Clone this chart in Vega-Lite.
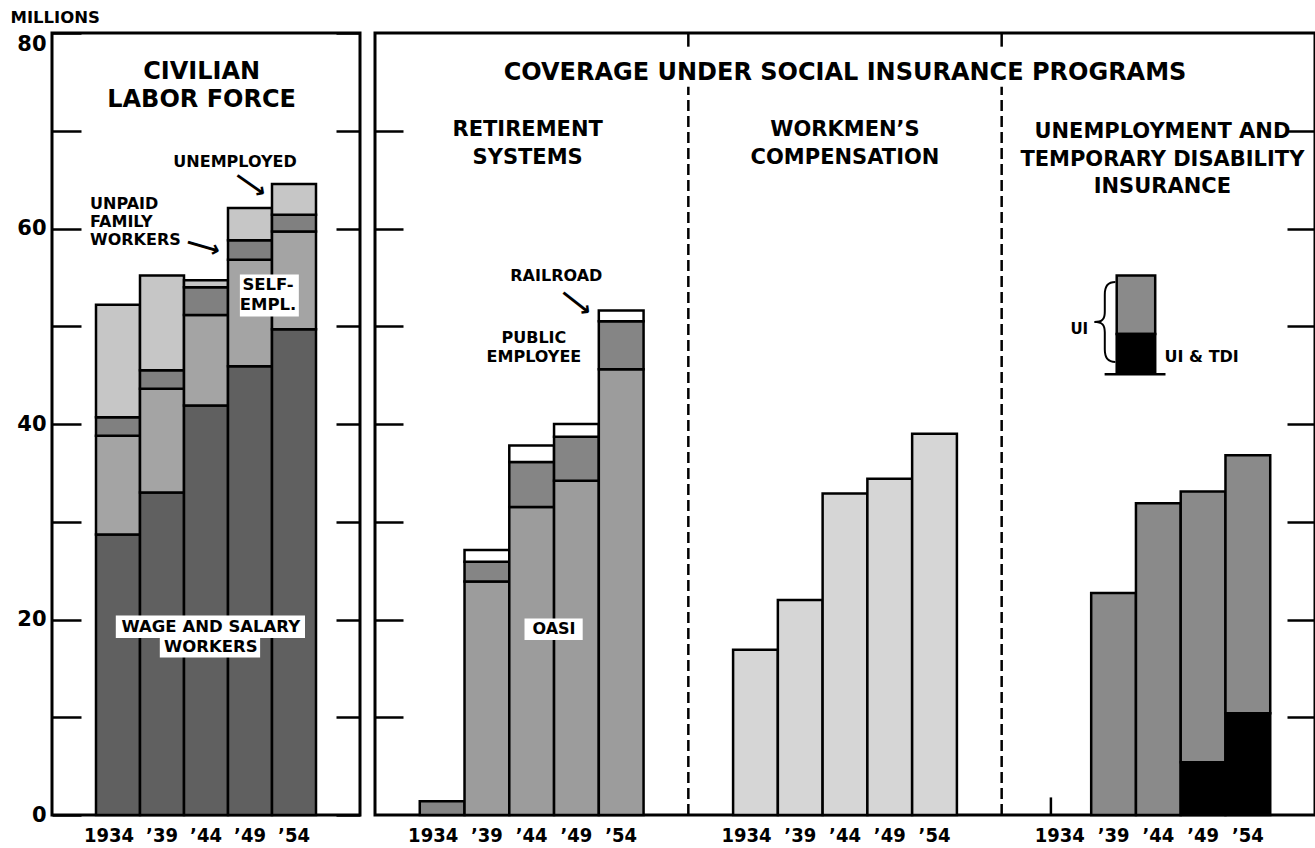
{
  "$schema": "https://vega.github.io/schema/vega-lite/v6.json",
  "background": "white",
  "padding": {"left": 8, "top": 7, "right": 2, "bottom": 0},
  "spacing": 15,
  "bounds": "flush",
  "resolve": {"scale": {"fill": "independent"}},
  "config": {
    "view": {"stroke": "black", "strokeWidth": 3},
    "font": "DejaVu Sans",
    "axis": {"labelColor": "black", "titleColor": "black"}
  },
  "hconcat": [
    {
      "width": 308,
      "height": 782,
      "resolve": {"axis": {"x": "independent", "y": "independent"}},
      "layer": [
        {
          "data": {"values": [
            {"year": "1934", "series": "Wage and salary workers", "ord": 1, "value": 28.7},
            {"year": "1934", "series": "Self-employed", "ord": 2, "value": 10.1},
            {"year": "1934", "series": "Unpaid family workers", "ord": 3, "value": 1.9},
            {"year": "1934", "series": "Unemployed", "ord": 4, "value": 11.5},
            {"year": "1939", "series": "Wage and salary workers", "ord": 1, "value": 33.0},
            {"year": "1939", "series": "Self-employed", "ord": 2, "value": 10.6},
            {"year": "1939", "series": "Unpaid family workers", "ord": 3, "value": 1.9},
            {"year": "1939", "series": "Unemployed", "ord": 4, "value": 9.7},
            {"year": "1944", "series": "Wage and salary workers", "ord": 1, "value": 41.9},
            {"year": "1944", "series": "Self-employed", "ord": 2, "value": 9.25},
            {"year": "1944", "series": "Unpaid family workers", "ord": 3, "value": 2.85},
            {"year": "1944", "series": "Unemployed", "ord": 4, "value": 0.7},
            {"year": "1949", "series": "Wage and salary workers", "ord": 1, "value": 45.9},
            {"year": "1949", "series": "Self-employed", "ord": 2, "value": 10.9},
            {"year": "1949", "series": "Unpaid family workers", "ord": 3, "value": 2.0},
            {"year": "1949", "series": "Unemployed", "ord": 4, "value": 3.3},
            {"year": "1954", "series": "Wage and salary workers", "ord": 1, "value": 49.7},
            {"year": "1954", "series": "Self-employed", "ord": 2, "value": 10.0},
            {"year": "1954", "series": "Unpaid family workers", "ord": 3, "value": 1.7},
            {"year": "1954", "series": "Unemployed", "ord": 4, "value": 3.15}
          ]},
          "mark": {"type": "bar", "stroke": "black", "strokeWidth": 2.5},
          "encoding": {
            "x": {
              "field": "year", "type": "nominal",
              "scale": {"domain": ["1934", "1939", "1944", "1949", "1954"], "paddingInner": 0, "paddingOuter": 1},
              "axis": {"title": null, "domain": false, "ticks": false, "tickSize": 0, "labelAngle": 0,
                "labelFont": "DejaVu Sans Condensed, DejaVu Sans", "labelFontWeight": "bold", "labelFontSize": 20, "labelPadding": 10,
                "labelOffset": {"condition": {"test": "datum.value == '1934'", "value": -9}, "value": 0},
                "labelExpr": "datum.value == '1934' ? '1934' : '’' + slice(datum.value, -2)"}
            },
            "y": {
              "field": "value", "type": "quantitative", "stack": "zero",
              "scale": {"domain": [0, 80], "nice": false},
              "axis": {"title": "MILLIONS", "titleAngle": 0, "titleAlign": "left", "titleBaseline": "middle",
                "titleX": -42, "titleY": -16, "titleFont": "DejaVu Sans", "titleFontSize": 16.5, "titleFontWeight": "bold",
                "values": [0, 10, 20, 30, 40, 50, 60, 70, 80],
                "labelExpr": "datum.value % 20 == 0 ? datum.label : ''",
                "labelBaseline": {"condition": {"test": "datum.value == 80", "value": "top"}, "value": "middle"},
                "labelFont": "DejaVu Sans", "labelFontSize": 21, "labelFontWeight": "bold", "labelPadding": 6,
                "domain": false, "ticks": false, "tickSize": 0,
                "grid": true, "gridColor": "black", "gridWidth": 2.5, "gridOpacity": 1, "gridDash": [29, 255, 24, 3000]}
            },
            "fill": {
              "field": "series", "type": "nominal",
              "scale": {"domain": ["Wage and salary workers", "Self-employed", "Unpaid family workers", "Unemployed"],
                "range": ["#606060", "#a4a4a4", "#808080", "#c6c6c6"]},
              "legend": null
            },
            "order": {"field": "ord", "type": "quantitative"}
          }
        },
        {
          "data": {"values": [{}]},
          "mark": {"type": "rect", "fill": "white"},
          "encoding": {
            "x": {"datum": "1934", "bandPosition": 0.45, "axis": null},
            "x2": {"datum": "1954", "bandPosition": 0.75},
            "y": {"datum": 20.4, "axis": null},
            "y2": {"datum": 18.1}
          }
        },
        {
          "data": {"values": [{}]},
          "mark": {"type": "rect", "fill": "white"},
          "encoding": {
            "x": {"datum": "1939", "bandPosition": 0.45, "axis": null},
            "x2": {"datum": "1949", "bandPosition": 0.73},
            "y": {"datum": 18.1, "axis": null},
            "y2": {"datum": 16.1}
          }
        },
        {
          "data": {"values": [{}]},
          "mark": {"type": "rect", "fill": "white"},
          "encoding": {
            "x": {"datum": "1949", "bandPosition": 0.27, "axis": null},
            "x2": {"datum": "1954", "bandPosition": 0.61},
            "y": {"datum": 55.3, "axis": null},
            "y2": {"datum": 51.0}
          }
        },
        {
          "data": {"values": [{}]},
          "mark": {"type": "text", "font": "DejaVu Sans", "fontWeight": "bold", "fontSize": 24, "lineHeight": 28, "align": "center", "baseline": "middle", "color": "black"},
          "encoding": {
            "x": {"datum": "1944", "bandPosition": 0.4, "axis": null},
            "y": {"datum": 76.0, "axis": null},
            "text": {"value": ["CIVILIAN", "LABOR FORCE"]}
          }
        },
        {
          "data": {"values": [{}]},
          "mark": {"type": "text", "font": "DejaVu Sans", "fontWeight": "bold", "fontSize": 16, "align": "center", "baseline": "middle", "color": "black"},
          "encoding": {
            "x": {"datum": "1949", "bandPosition": 0.16, "axis": null},
            "y": {"datum": 66.8, "axis": null},
            "text": {"value": "UNEMPLOYED"}
          }
        },
        {
          "data": {"values": [{}]},
          "mark": {"type": "text", "font": "DejaVu Sans", "fontWeight": "bold", "fontSize": 16, "lineHeight": 18, "align": "left", "baseline": "middle", "dx": -6, "color": "black"},
          "encoding": {
            "x": {"datum": "1934", "bandPosition": 0, "axis": null},
            "y": {"datum": 62.5, "axis": null},
            "text": {"value": ["UNPAID", "FAMILY", "WORKERS"]}
          }
        },
        {
          "data": {"values": [{}]},
          "mark": {"type": "text", "font": "DejaVu Sans", "fontWeight": "bold", "fontSize": 16.5, "lineHeight": 20, "align": "center", "baseline": "middle", "color": "black"},
          "encoding": {
            "x": {"datum": "1949", "bandPosition": 0.91, "axis": null},
            "y": {"datum": 54.22, "axis": null},
            "text": {"value": ["SELF-", "EMPL."]}
          }
        },
        {
          "data": {"values": [{}]},
          "mark": {"type": "text", "font": "DejaVu Sans", "fontWeight": "bold", "fontSize": 16.5, "lineHeight": 20, "align": "center", "baseline": "middle", "color": "black"},
          "encoding": {
            "x": {"datum": "1944", "bandPosition": 0.61, "axis": null},
            "y": {"datum": 19.23, "axis": null},
            "text": {"value": ["WAGE AND SALARY", "WORKERS"]}
          }
        },
        {
          "data": {"values": [{}]},
          "mark": {"type": "text", "font": "DejaVu Sans", "fontWeight": "bold", "fontSize": 24, "align": "center", "baseline": "middle", "angle": 35, "color": "black"},
          "encoding": {
            "x": {"datum": "1949", "bandPosition": 0.5, "axis": null},
            "y": {"datum": 64.45, "axis": null},
            "text": {"value": "⟶"}
          }
        },
        {
          "data": {"values": [{}]},
          "mark": {"type": "text", "font": "DejaVu Sans", "fontWeight": "bold", "fontSize": 24, "align": "center", "baseline": "middle", "angle": 16, "color": "black"},
          "encoding": {
            "x": {"datum": "1944", "bandPosition": 0.43, "axis": null},
            "y": {"datum": 58.1, "axis": null},
            "text": {"value": "⟶"}
          }
        }
      ]
    },
    {
      "width": 940,
      "height": 782,
      "resolve": {"axis": {"x": "independent", "y": "independent"}},
      "layer": [
        {
          "data": {"values": [
            {"slot": "ret|1934", "series": "Public employee", "ord": 2, "value": 1.4},
            {"slot": "ret|1939", "series": "OASI", "ord": 1, "value": 23.9},
            {"slot": "ret|1939", "series": "Public employee", "ord": 2, "value": 2.0},
            {"slot": "ret|1939", "series": "Railroad", "ord": 3, "value": 1.2},
            {"slot": "ret|1944", "series": "OASI", "ord": 1, "value": 31.5},
            {"slot": "ret|1944", "series": "Public employee", "ord": 2, "value": 4.6},
            {"slot": "ret|1944", "series": "Railroad", "ord": 3, "value": 1.7},
            {"slot": "ret|1949", "series": "OASI", "ord": 1, "value": 34.2},
            {"slot": "ret|1949", "series": "Public employee", "ord": 2, "value": 4.5},
            {"slot": "ret|1949", "series": "Railroad", "ord": 3, "value": 1.3},
            {"slot": "ret|1954", "series": "OASI", "ord": 1, "value": 45.6},
            {"slot": "ret|1954", "series": "Public employee", "ord": 2, "value": 4.9},
            {"slot": "ret|1954", "series": "Railroad", "ord": 3, "value": 1.1},
            {"slot": "wc|1934", "series": "Workmen's compensation", "ord": 1, "value": 16.9},
            {"slot": "wc|1939", "series": "Workmen's compensation", "ord": 1, "value": 22.0},
            {"slot": "wc|1944", "series": "Workmen's compensation", "ord": 1, "value": 32.9},
            {"slot": "wc|1949", "series": "Workmen's compensation", "ord": 1, "value": 34.4},
            {"slot": "wc|1954", "series": "Workmen's compensation", "ord": 1, "value": 39.0},
            {"slot": "ui|1939", "series": "UI", "ord": 2, "value": 22.7},
            {"slot": "ui|1944", "series": "UI", "ord": 2, "value": 31.9},
            {"slot": "ui|1949", "series": "UI & TDI", "ord": 1, "value": 5.4},
            {"slot": "ui|1949", "series": "UI", "ord": 2, "value": 27.7},
            {"slot": "ui|1954", "series": "UI & TDI", "ord": 1, "value": 10.4},
            {"slot": "ui|1954", "series": "UI", "ord": 2, "value": 26.4}
          ]},
          "mark": {"type": "bar", "stroke": "black", "strokeWidth": 2.5},
          "encoding": {
            "x": {
              "field": "slot", "type": "nominal",
              "scale": {"domain": ["ret|1934", "ret|1939", "ret|1944", "ret|1949", "ret|1954", "gap1", "gap2",
                "wc|1934", "wc|1939", "wc|1944", "wc|1949", "wc|1954", "gap3", "gap4",
                "ui|1934", "ui|1939", "ui|1944", "ui|1949", "ui|1954"], "paddingInner": 0, "paddingOuter": 1.18},
              "axis": {"title": null, "domain": false, "ticks": false, "tickSize": 0, "labelAngle": 0,
                "labelFont": "DejaVu Sans Condensed, DejaVu Sans", "labelFontWeight": "bold", "labelFontSize": 20, "labelPadding": 10,
                "labelOffset": {"condition": {"test": "slice(datum.value, -4) == '1934'", "value": -9}, "value": 0},
                "labelExpr": "indexof(datum.value, 'gap') >= 0 ? '' : (slice(datum.value, -4) == '1934' ? '1934' : '’' + slice(datum.value, -2))"}
            },
            "y": {
              "field": "value", "type": "quantitative", "stack": "zero",
              "scale": {"domain": [0, 80], "nice": false},
              "axis": {"title": null, "labels": false, "values": [10, 20, 30, 40, 50, 60, 70],
                "domain": false, "ticks": false, "tickSize": 0,
                "grid": true, "gridColor": "black", "gridWidth": 2.5, "gridOpacity": 1, "gridDash": [28, 884, 28, 3000]}
            },
            "fill": {
              "field": "series", "type": "nominal",
              "scale": {"domain": ["OASI", "Public employee", "Railroad", "Workmen's compensation", "UI", "UI & TDI"],
                "range": ["#9c9c9c", "#858585", "#ffffff", "#d6d6d6", "#8a8a8a", "#000000"]},
              "legend": null
            },
            "order": {"field": "ord", "type": "quantitative"}
          }
        },
        {
          "data": {"values": [{}]},
          "mark": {"type": "rule", "strokeDash": [11, 5], "strokeWidth": 2.5, "color": "black"},
          "encoding": {
            "x": {"datum": "gap1", "bandPosition": 1, "axis": null},
            "y": {"datum": 0, "axis": null},
            "y2": {"datum": 74.5}
          }
        },
        {
          "data": {"values": [{}]},
          "mark": {"type": "rule", "strokeDash": [11, 5], "strokeWidth": 2.5, "color": "black"},
          "encoding": {
            "x": {"datum": "gap3", "bandPosition": 1, "axis": null},
            "y": {"datum": 0, "axis": null},
            "y2": {"datum": 74.5}
          }
        },
        {
          "data": {"values": [{}]},
          "mark": {"type": "rule", "strokeWidth": 2.5, "color": "black"},
          "encoding": {
            "x": {"datum": "gap1", "bandPosition": 1, "axis": null},
            "y": {"datum": 78.6, "axis": null},
            "y2": {"datum": 80}
          }
        },
        {
          "data": {"values": [{}]},
          "mark": {"type": "rule", "strokeWidth": 2.5, "color": "black"},
          "encoding": {
            "x": {"datum": "gap3", "bandPosition": 1, "axis": null},
            "y": {"datum": 78.6, "axis": null},
            "y2": {"datum": 80}
          }
        },
        {
          "data": {"values": [{}]},
          "mark": {"type": "text", "font": "DejaVu Sans", "fontWeight": "bold", "fontSize": 24, "align": "center", "baseline": "middle", "color": "black"},
          "encoding": {
            "x": {"datum": "wc|1944", "axis": null},
            "y": {"datum": 75.9, "axis": null},
            "text": {"value": "COVERAGE UNDER SOCIAL INSURANCE PROGRAMS"}
          }
        },
        {
          "data": {"values": [{}]},
          "mark": {"type": "text", "font": "DejaVu Sans", "fontWeight": "bold", "fontSize": 21, "lineHeight": 28, "align": "center", "baseline": "middle", "color": "black"},
          "encoding": {
            "x": {"datum": "ret|1944", "bandPosition": 0.41, "axis": null},
            "y": {"datum": 70.08, "axis": null},
            "text": {"value": ["RETIREMENT", "SYSTEMS"]}
          }
        },
        {
          "data": {"values": [{}]},
          "mark": {"type": "text", "font": "DejaVu Sans", "fontWeight": "bold", "fontSize": 21, "lineHeight": 28, "align": "center", "baseline": "middle", "color": "black"},
          "encoding": {
            "x": {"datum": "wc|1944", "axis": null},
            "y": {"datum": 70.08, "axis": null},
            "text": {"value": ["WORKMEN’S", "COMPENSATION"]}
          }
        },
        {
          "data": {"values": [{}]},
          "mark": {"type": "text", "font": "DejaVu Sans", "fontWeight": "bold", "fontSize": 21, "lineHeight": 27.5, "align": "center", "baseline": "middle", "color": "black"},
          "encoding": {
            "x": {"datum": "ui|1944", "bandPosition": 0.59, "axis": null},
            "y": {"datum": 69.87, "axis": null},
            "text": {"value": ["UNEMPLOYMENT AND", "TEMPORARY DISABILITY", "INSURANCE"]}
          }
        },
        {
          "data": {"values": [{}]},
          "mark": {"type": "text", "font": "DejaVu Sans", "fontWeight": "bold", "fontSize": 16, "align": "center", "baseline": "middle", "color": "black"},
          "encoding": {
            "x": {"datum": "ret|1949", "bandPosition": 0.05, "axis": null},
            "y": {"datum": 55.1, "axis": null},
            "text": {"value": "RAILROAD"}
          }
        },
        {
          "data": {"values": [{}]},
          "mark": {"type": "text", "font": "DejaVu Sans", "fontWeight": "bold", "fontSize": 24, "align": "center", "baseline": "middle", "angle": 38, "color": "black"},
          "encoding": {
            "x": {"datum": "ret|1949", "bandPosition": 0.48, "axis": null},
            "y": {"datum": 52.4, "axis": null},
            "text": {"value": "⟶"}
          }
        },
        {
          "data": {"values": [{}]},
          "mark": {"type": "text", "font": "DejaVu Sans", "fontWeight": "bold", "fontSize": 16, "lineHeight": 19, "align": "center", "baseline": "middle", "color": "black"},
          "encoding": {
            "x": {"datum": "ret|1944", "bandPosition": 0.55, "axis": null},
            "y": {"datum": 48.8, "axis": null},
            "text": {"value": ["PUBLIC", "EMPLOYEE"]}
          }
        },
        {
          "data": {"values": [{}]},
          "mark": {"type": "rect", "fill": "white"},
          "encoding": {
            "x": {"datum": "ret|1944", "bandPosition": 0.34, "axis": null},
            "x2": {"datum": "ret|1949", "bandPosition": 0.64},
            "y": {"datum": 20.1, "axis": null},
            "y2": {"datum": 17.9}
          }
        },
        {
          "data": {"values": [{}]},
          "mark": {"type": "text", "font": "DejaVu Sans", "fontWeight": "bold", "fontSize": 16, "align": "center", "baseline": "middle", "color": "black"},
          "encoding": {
            "x": {"datum": "ret|1949", "bandPosition": 0, "axis": null},
            "y": {"datum": 19.0, "axis": null},
            "text": {"value": "OASI"}
          }
        },
        {
          "data": {"values": [{}]},
          "mark": {"type": "rect", "fill": "#8a8a8a", "stroke": "black", "strokeWidth": 2.5},
          "encoding": {
            "x": {"datum": "ui|1939", "bandPosition": 0.57, "axis": null},
            "x2": {"datum": "ui|1944", "bandPosition": 0.43},
            "y": {"datum": 49.2, "axis": null},
            "y2": {"datum": 55.2}
          }
        },
        {
          "data": {"values": [{}]},
          "mark": {"type": "rect", "fill": "black", "stroke": "black", "strokeWidth": 2.5},
          "encoding": {
            "x": {"datum": "ui|1939", "bandPosition": 0.57, "axis": null},
            "x2": {"datum": "ui|1944", "bandPosition": 0.43},
            "y": {"datum": 45.3, "axis": null},
            "y2": {"datum": 49.2}
          }
        },
        {
          "data": {"values": [{}]},
          "mark": {"type": "rule", "strokeWidth": 2.5, "color": "black"},
          "encoding": {
            "x": {"datum": "ui|1939", "bandPosition": 0.3, "axis": null},
            "x2": {"datum": "ui|1944", "bandPosition": 0.66},
            "y": {"datum": 45.1, "axis": null}
          }
        },
        {
          "data": {"values": [{}]},
          "mark": {"type": "text", "font": "DejaVu Sans", "fontWeight": "bold", "fontSize": 15, "align": "right", "baseline": "middle", "dx": -3, "color": "black"},
          "encoding": {
            "x": {"datum": "ui|1939", "bandPosition": 0, "axis": null},
            "y": {"datum": 49.7, "axis": null},
            "text": {"value": "UI"}
          }
        },
        {
          "data": {"values": [{}]},
          "mark": {"type": "text", "font": "Inter", "fontWeight": 100, "fontSize": 90, "align": "center", "baseline": "middle", "color": "black"},
          "encoding": {
            "x": {"datum": "ui|1939", "bandPosition": 0.3, "axis": null},
            "y": {"datum": 50.2, "axis": null},
            "text": {"value": "{"}
          }
        },
        {
          "data": {"values": [{}]},
          "mark": {"type": "text", "font": "DejaVu Sans", "fontWeight": "bold", "fontSize": 16, "align": "left", "baseline": "middle", "color": "black"},
          "encoding": {
            "x": {"datum": "ui|1944", "bandPosition": 0.64, "axis": null},
            "y": {"datum": 46.85, "axis": null},
            "text": {"value": "UI & TDI"}
          }
        },
        {
          "data": {"values": [{}]},
          "mark": {"type": "rule", "strokeWidth": 2.5, "color": "black"},
          "encoding": {
            "x": {"datum": "ui|1934", "bandPosition": 0.1, "axis": null},
            "y": {"datum": 0, "axis": null},
            "y2": {"datum": 1.8}
          }
        }
      ]
    }
  ]
}
